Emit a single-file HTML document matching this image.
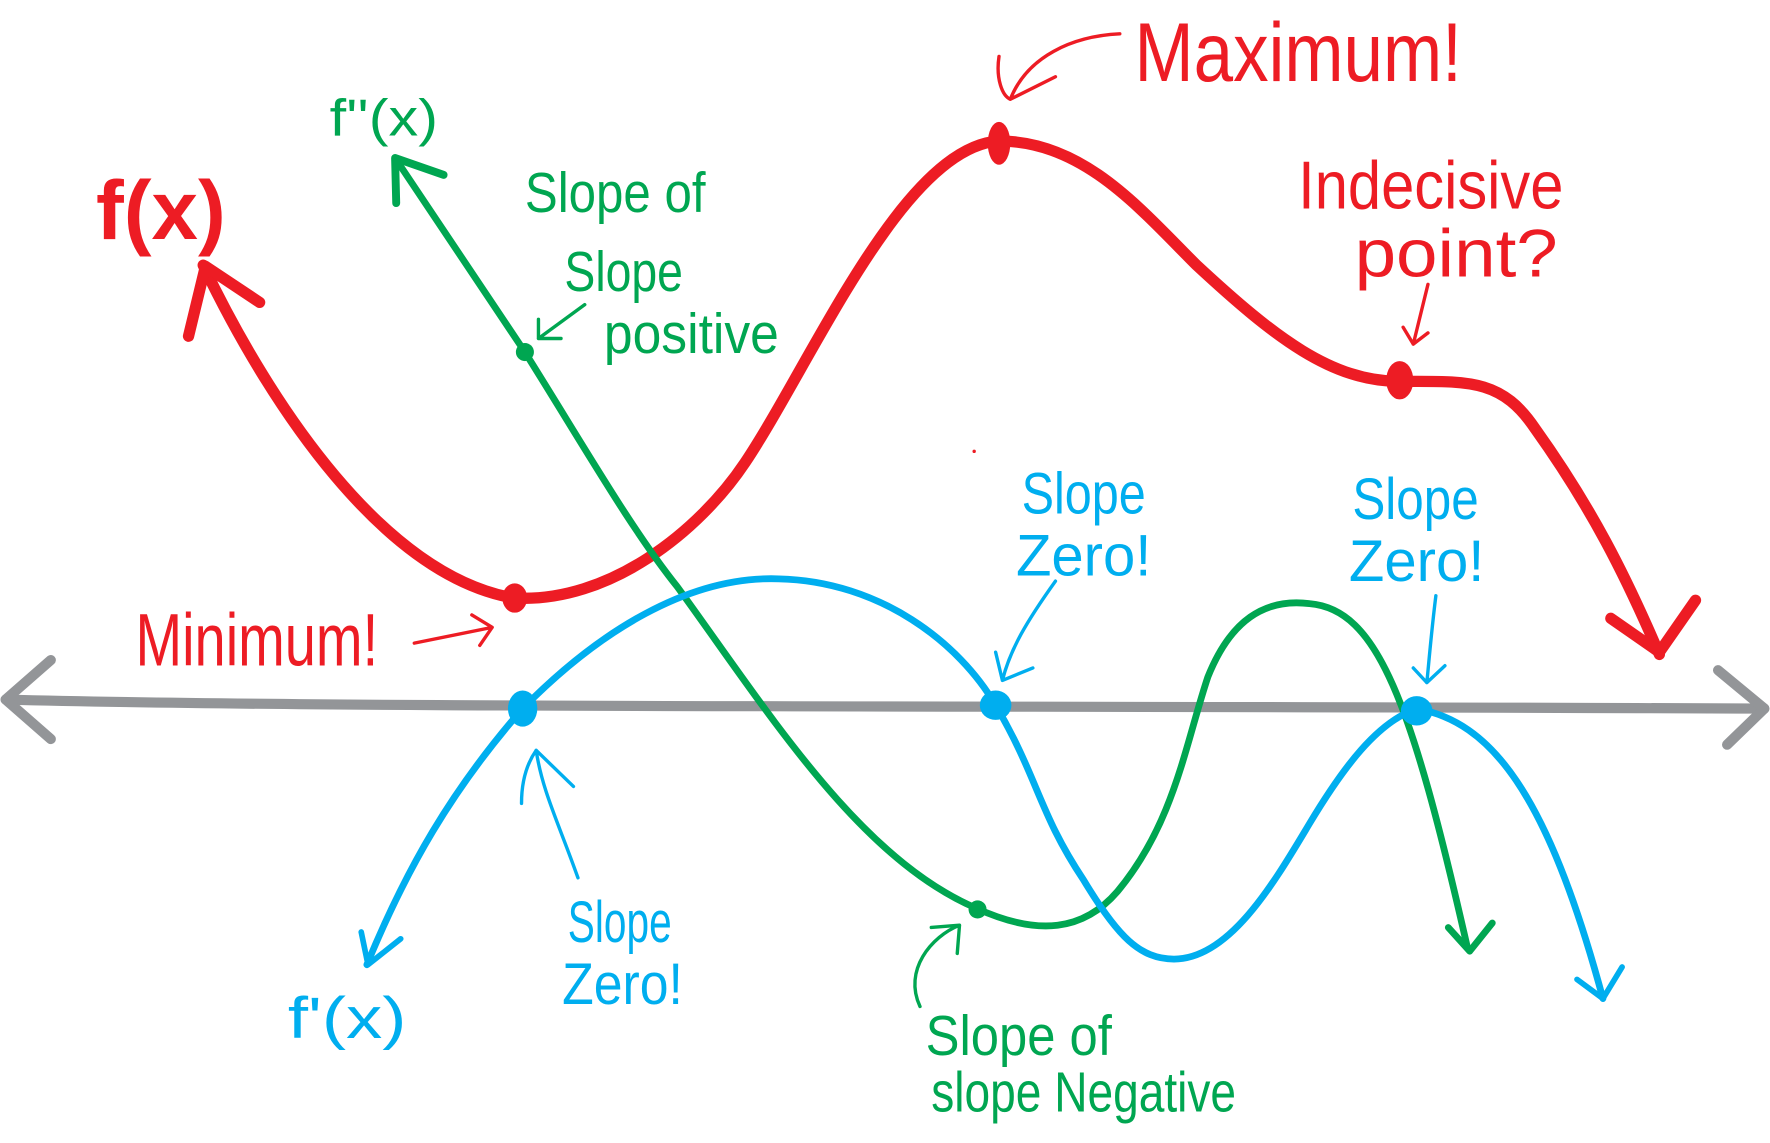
<!DOCTYPE html>
<html><head><meta charset="utf-8"><style>
html,body{margin:0;padding:0;background:#fff;}
svg{display:block}
text{font-family:"Liberation Sans Narrow","Liberation Sans",sans-serif;}
</style></head><body>
<svg width="1770" height="1143" viewBox="0 0 1568 1013" preserveAspectRatio="none" xmlns="http://www.w3.org/2000/svg">
<g fill="none" stroke-linecap="round" stroke-linejoin="round">
<path d="M5,620 C300,628 900,625 1563,628" stroke="#939598" stroke-width="9"/>
<path d="M45,585 L5,620 L45,655" stroke="#939598" stroke-width="9"/>
<path d="M1522,594 L1563,628 L1530,660" stroke="#939598" stroke-width="9"/>
<path d="M180,235 C240,360 340,510 455,530 C540,535 620,470 660,410 C720,320 800,130 885,125 C960,125 1010,185 1060,235 C1130,300 1180,338 1240,338 C1300,338 1330,335 1360,380 C1410,450 1440,510 1470,580" stroke="#ed1c24" stroke-width="10"/>
<path d="M167,298 L182,236 L230,268" stroke="#ed1c24" stroke-width="10"/>
<path d="M1427,548 L1470,578 L1502,532" stroke="#ed1c24" stroke-width="10"/>
<path d="M350,140 L465,312 C520,400 560,470 600,520 C680,630 760,760 865,805 C920,830 960,825 990,790 C1040,730 1050,660 1070,600 C1090,550 1120,530 1160,535 C1220,540 1250,620 1300,840" stroke="#00a651" stroke-width="6"/>
<path d="M351,180 L350,140 L393,155" stroke="#00a651" stroke-width="7"/>
<path d="M1283,822 L1302,843 L1322,818" stroke="#00a651" stroke-width="6"/>
<path d="M325,855 C360,770 400,700 463,628 C530,560 610,510 690,513 C780,515 850,570 882,625 C920,690 920,720 960,780 C990,830 1010,850 1040,850 C1090,850 1130,780 1160,730 C1190,680 1220,640 1255,628 C1320,640 1370,700 1420,885" stroke="#00aeef" stroke-width="6"/>
<path d="M320,826 L326,855 L355,832" stroke="#00aeef" stroke-width="5"/>
<path d="M1397,868 L1420,885 L1437,857" stroke="#00aeef" stroke-width="5"/>
<path d="M518,270 L477,300 M477,283 L477,300 L497,300" stroke="#00a651" stroke-width="3"/>
<path d="M992,30 C950,32 910,50 895,88 M885,50 C882,70 888,85 895,88 L935,68" stroke="#ed1c24" stroke-width="3"/>
<path d="M1265,252 L1252,305 M1243,290 L1252,305 L1265,295" stroke="#ed1c24" stroke-width="3"/>
<path d="M367,570 L436,556 M418,545 L436,556 L425,572" stroke="#ed1c24" stroke-width="3"/>
<path d="M935,515 C910,550 895,575 888,603 M882,578 L888,603 L915,592" stroke="#00aeef" stroke-width="3"/>
<path d="M1272,528 C1268,560 1266,585 1264,605 M1252,592 L1264,605 L1280,590" stroke="#00aeef" stroke-width="3"/>
<path d="M512,778 C495,730 480,700 475,665 M462,712 C462,690 468,675 475,665 L508,697" stroke="#00aeef" stroke-width="3"/>
<path d="M815,892 C800,860 825,830 850,820 M825,822 L850,820 L848,845" stroke="#00a651" stroke-width="3"/>
</g>
<ellipse cx="885" cy="127" rx="10" ry="19" fill="#ed1c24"/>
<ellipse cx="456" cy="530" rx="11" ry="13" fill="#ed1c24"/>
<ellipse cx="1240" cy="337" rx="12" ry="17" fill="#ed1c24"/>
<circle cx="465" cy="312" r="8" fill="#00a651"/>
<circle cx="866" cy="806" r="8" fill="#00a651"/>
<ellipse cx="463" cy="628" rx="13" ry="16" fill="#00aeef"/>
<ellipse cx="882" cy="625" rx="14" ry="13" fill="#00aeef"/>
<ellipse cx="1255" cy="630" rx="14" ry="13" fill="#00aeef"/>
<circle cx="863" cy="400" r="1.5" fill="#ed1c24"/>
<text x="85" y="212" font-size="74" fill="#ed1c24" font-weight="bold" textLength="115" lengthAdjust="spacingAndGlyphs">f(x)</text>
<text x="292" y="120" font-size="46" fill="#00a651" textLength="96" lengthAdjust="spacingAndGlyphs">f''(x)</text>
<g fill="#00a651" font-size="50">
<text x="465" y="188" textLength="160" lengthAdjust="spacingAndGlyphs">Slope of</text>
<text x="500" y="258" textLength="105" lengthAdjust="spacingAndGlyphs">Slope</text>
<text x="535" y="313" textLength="155" lengthAdjust="spacingAndGlyphs">positive</text>
<text x="820" y="935" textLength="165" lengthAdjust="spacingAndGlyphs">Slope of</text>
<text x="825" y="985" textLength="270" lengthAdjust="spacingAndGlyphs">slope Negative</text>
</g>
<g fill="#ed1c24">
<text x="1005" y="72" font-size="74" textLength="290" lengthAdjust="spacingAndGlyphs">Maximum!</text>
<text x="1150" y="185" font-size="60" textLength="235" lengthAdjust="spacingAndGlyphs">Indecisive</text>
<text x="1200" y="245" font-size="60" textLength="180" lengthAdjust="spacingAndGlyphs">point?</text>
<text x="120" y="590" font-size="66" textLength="215" lengthAdjust="spacingAndGlyphs">Minimum!</text>
</g>
<g fill="#00aeef" font-size="52">
<text x="905" y="455" textLength="110" lengthAdjust="spacingAndGlyphs">Slope</text>
<text x="900" y="510" textLength="120" lengthAdjust="spacingAndGlyphs">Zero!</text>
<text x="1198" y="460" textLength="112" lengthAdjust="spacingAndGlyphs">Slope</text>
<text x="1195" y="515" textLength="120" lengthAdjust="spacingAndGlyphs">Zero!</text>
<text x="503" y="835" textLength="92" lengthAdjust="spacingAndGlyphs">Slope</text>
<text x="498" y="890" textLength="107" lengthAdjust="spacingAndGlyphs">Zero!</text>
<text x="255" y="920" textLength="105" lengthAdjust="spacingAndGlyphs">f'(x)</text>
</g>
</svg>
</body></html>
